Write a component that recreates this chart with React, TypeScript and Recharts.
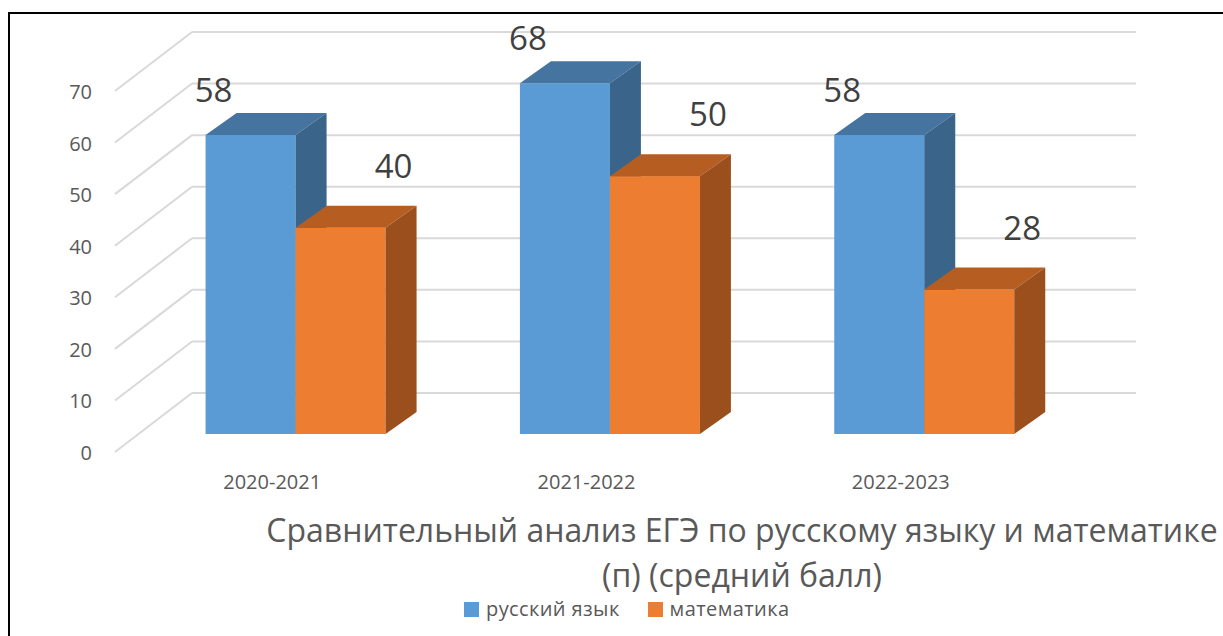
import React from 'react';
import { BarChart, Bar, XAxis, YAxis, CartesianGrid, LabelList, Legend } from 'recharts';

const categories = ['2020-2021', '2021-2022', '2022-2023'];
const russianScores = [58, 68, 58];
const mathScores = [40, 50, 28];
const yTicks = [0, 10, 20, 30, 40, 50, 60, 70];

const titleLines = ['Сравнительный анализ ЕГЭ по русскому языку и математике', '(п) (средний балл)'];

const data = categories.map((name, i) => ({
  name,
  russian: russianScores[i],
  math: mathScores[i],
}));

const FONT = '"Open Sans", sans-serif';
const TEXT = '#595959';
const GRID = '#D9D9D9';

// 3d depth of a bar
const DX = 31;
const DY = 22;

const BLUE = { front: '#5B9BD5', top: '#4674A0', side: '#3A6489' };
const ORANGE = { front: '#ED7D31', top: '#B65E22', side: '#9A4F1D' };

const makeBox = (c: { front: string; top: string; side: string }) => (props: any) => {
  const { x, y, width, height } = props;
  if (!width || height == null) return null;
  const r = x + width;
  const b = y + height;
  return (
    <g>
      <rect x={x} y={y} width={width} height={height} fill={c.front} />
      <polygon points={`${x},${y} ${x + DX},${y - DY} ${r + DX},${y - DY} ${r},${y}`} fill={c.top} />
      <polygon points={`${r},${y} ${r + DX},${y - DY} ${r + DX},${b - DY} ${r},${b}`} fill={c.side} />
    </g>
  );
};

// floor diagonal + back wall line for each y tick
const gridLine = (props: any) => {
  const { x1, x2, y1 } = props;
  const backY = y1 - 41;
  return (
    <g key={props.key}>
      <line x1={x1 - 23} y1={y1 + 18} x2={x1 + 54} y2={backY} stroke={GRID} strokeWidth={2} />
      <line x1={x1 + 54} y1={backY} x2={x2 + 55} y2={backY} stroke={GRID} strokeWidth={2} />
    </g>
  );
};

const YTick = (props: any) => {
  const { y, payload } = props;
  return (
    <text x={92} y={y + 26} textAnchor="end" fontFamily={FONT} fontSize={20} fill={TEXT}>
      {payload.value}
    </text>
  );
};

const XTick = (props: any) => {
  const { x, y, payload } = props;
  return (
    <text x={x - 23} y={y + 47} textAnchor="middle" fontFamily={FONT} fontSize={20} fill={TEXT}>
      {payload.value}
    </text>
  );
};

const makeLabel = (offX: number, offY: number) => (props: any) => {
  const { x, y, width, value } = props;
  return (
    <text x={x + width / 2 + offX} y={y + offY} textAnchor="middle" fontFamily={FONT} fontSize={33} fill="#404040">
      {value}
    </text>
  );
};

const LegendContent = () => {
  const items = [
    { label: 'русский язык', color: BLUE.front },
    { label: 'математика', color: ORANGE.front },
  ];
  return (
    <div style={{ display: 'flex', alignItems: 'center', fontFamily: FONT, fontSize: 20, lineHeight: '16px', color: TEXT }}>
      {items.map((it) => (
        <div key={it.label} style={{ display: 'flex', alignItems: 'center', marginRight: 28 }}>
          <span style={{ width: 15, height: 15, background: it.color, marginRight: 7, display: 'inline-block' }} />
          <span style={{ letterSpacing: 0.4 }}>{it.label}</span>
        </div>
      ))}
    </div>
  );
};

export default function App() {
  return (
    <div style={{ position: 'fixed', left: 0, top: 0, width: 1223, height: 636, overflow: 'hidden', background: '#fff' }}>
      <div
        style={{
          position: 'absolute',
          left: 8,
          top: 12,
          width: 1400,
          height: 800,
          border: '2px solid #000',
          boxSizing: 'border-box',
        }}
      />
      <div style={{ position: 'absolute', left: 0, top: 0 }}>
        <BarChart
          width={1223}
          height={636}
          data={data}
          margin={{ top: 73, right: 142, bottom: 126, left: 0 }}
          barCategoryGap="21.5%"
          barGap={0}
        >
          <CartesianGrid vertical={false} horizontal={gridLine} />
          <YAxis domain={[0, 70]} ticks={yTicks} width={138} axisLine={false} tickLine={false} tick={YTick} />
          <XAxis dataKey="name" height={60} axisLine={false} tickLine={false} tick={XTick} interval={0} />
          <Bar dataKey="russian" name="русский язык" fill={BLUE.front} shape={makeBox(BLUE)} isAnimationActive={false}>
            <LabelList dataKey="russian" content={makeLabel(-37, -33)} />
          </Bar>
          <Bar dataKey="math" name="математика" fill={ORANGE.front} shape={makeBox(ORANGE)} isAnimationActive={false}>
            <LabelList dataKey="math" content={makeLabel(53, -50)} />
          </Bar>
          <Legend
            content={<LegendContent />}
            wrapperStyle={{ position: 'absolute', left: 464, top: 601, width: 'auto', bottom: 'auto' }}
          />
        </BarChart>
      </div>
      {titleLines.map((line, i) => (
        <div
          key={i}
          style={{
            position: 'absolute',
            left: 742,
            top: 513 + i * 45,
            transform: 'translateX(-50%)',
            whiteSpace: 'nowrap',
            fontFamily: FONT,
            fontSize: 32,
            lineHeight: '34px',
            color: TEXT,
          }}
        >
          {line}
        </div>
      ))}
    </div>
  );
}
